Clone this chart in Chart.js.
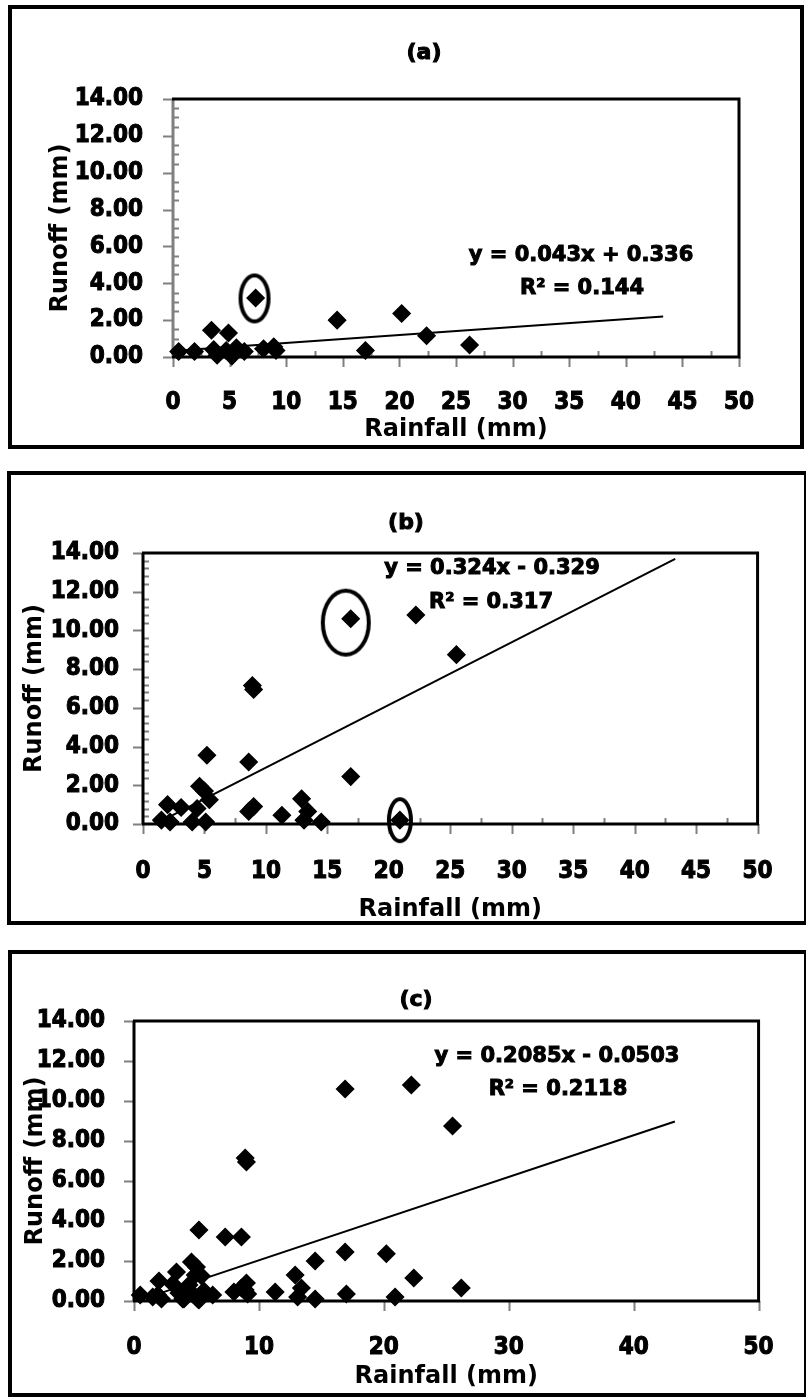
<!DOCTYPE html>
<html>
<head>
<meta charset="utf-8">
<title>Rainfall - runoff</title>
<script src="https://cdn.jsdelivr.net/npm/chart.js@4.4.1/dist/chart.umd.min.js"></script>
<style>
  html, body { margin: 0; padding: 0; background: #fff; overflow: hidden; }
  body { width: 806px; height: 1397px; position: relative; }
  canvas { position: absolute; left: 0; }
</style>
</head>
<body>
<canvas id="chartA" width="806" height="460" style="top:0px"></canvas>
<canvas id="chartB" width="806" height="475" style="top:460px"></canvas>
<canvas id="chartC" width="806" height="462" style="top:935px"></canvas>
<script>
// events for plot (a)
const rainA   = [0.5, 1.9, 3.4, 3.6, 3.9, 4.7, 4.9, 5.2, 5.6, 6.3, 7.3, 8.0, 8.9, 9.1, 14.5, 17.0, 20.2, 22.4, 26.2];
const runoffA = [0.3, 0.3, 1.45, 0.4, 0.1, 0.35, 1.3, 0.05, 0.5, 0.3, 3.2, 0.45, 0.55, 0.35, 2.0, 0.35, 2.36, 1.15, 0.65];

// events for plot (b)
const rainB   = [1.5, 2.0, 2.2, 3.1, 4.0, 4.4, 4.6, 5.0, 5.1, 5.2, 5.4, 8.6, 8.6, 8.9, 9.0, 9.0, 11.3, 12.9, 13.1, 13.4, 14.5, 16.9, 16.9, 20.9, 22.2, 25.5];
const runoffB = [0.2, 1.0, 0.1, 0.85, 0.1, 0.8, 1.95, 1.7, 0.1, 3.55, 1.25, 3.2, 0.65, 7.15, 6.95, 0.9, 0.45, 1.3, 0.2, 0.65, 0.1, 2.45, 10.6, 0.2, 10.8, 8.75];

// plot (c) pools both sets
const rainC   = rainA.concat(rainB);
const runoffC = runoffA.concat(runoffB);

// fitted lines, as printed on each plot
const fitSlope     = [0.043, 0.324, 0.2085];
const fitIntercept = [0.336, -0.329, -0.0503];
const fitText = [
  ['y = 0.043x + 0.336', 'R² = 0.144'],
  ['y = 0.324x - 0.329', 'R² = 0.317'],
  ['y = 0.2085x - 0.0503', 'R² = 0.2118']
];
const fitEndX = 43.3;

// circled events (centre, data units)
const circledA = [{ x: 7.2, y: 3.18 }];
const circledB = [{ x: 16.5, y: 10.4 }, { x: 20.9, y: 0.2 }];

const panelTitles = ['(a)', '(b)', '(c)'];
const xTitle = 'Rainfall (mm)';
const yTitle = 'Runoff (mm)';

const FONT = "'DejaVu Sans', sans-serif";
const TICK_FONT = "'DejaVu Sans Condensed', 'DejaVu Sans', sans-serif";
Chart.defaults.font.family = FONT;
Chart.defaults.font.weight = 'bold';
Chart.defaults.color = '#000';

function ellipseMark(rx, ry) {
  const lw = 4;
  const c = document.createElement('canvas');
  c.width = Math.ceil(2 * rx + lw + 2);
  c.height = Math.ceil(2 * ry + lw + 2);
  const g = c.getContext('2d');
  g.lineWidth = lw;
  g.strokeStyle = '#000';
  g.beginPath();
  g.ellipse(c.width / 2, c.height / 2, rx, ry, 0, 0, Math.PI * 2);
  g.stroke();
  return c;
}

function heavyText(ctx, text, x, y, size) {
  ctx.font = 'bold ' + size + 'px ' + FONT;
  ctx.lineWidth = 1;
  ctx.strokeStyle = '#000';
  ctx.fillStyle = '#000';
  ctx.textAlign = 'center';
  ctx.textBaseline = 'middle';
  ctx.strokeText(text, x, y);
  ctx.fillText(text, x, y);
}

// frame, plot border, tick marks, panel title and the fit equation
const panelDecor = {
  id: 'panelDecor',
  beforeDraw(chart, args, o) {
    const ctx = chart.ctx;
    const f = o.frame;
    ctx.save();
    ctx.lineWidth = 4;
    ctx.strokeStyle = '#000';
    ctx.strokeRect(f[0], f[1], f[2] - f[0], f[3] - f[1]);
    heavyText(ctx, o.title, o.titlePos[0], o.titlePos[1], 22);
    ctx.restore();
  },
  beforeDatasetsDraw(chart, args, o) {
    const { ctx, chartArea: a, scales: { x, y } } = chart;
    ctx.save();
    ctx.strokeStyle = '#808080';
    ctx.lineWidth = 2;
    ctx.beginPath();
    const nx = Math.round(x.max / o.xMinor);
    for (let i = 0; i <= nx; i++) {
      const v = i * o.xMinor;
      const px = Math.round(x.getPixelForValue(v)) + 0.5;
      const major = Math.abs(v / o.xMajor - Math.round(v / o.xMajor)) < 1e-6;
      if (major) { ctx.moveTo(px, a.bottom); ctx.lineTo(px, a.bottom + 10); }
      else { ctx.moveTo(px, a.bottom - 6); ctx.lineTo(px, a.bottom); }
    }
    const ny = Math.round(y.max / o.yMinor);
    for (let i = 0; i <= ny; i++) {
      const v = i * o.yMinor;
      const py = Math.round(y.getPixelForValue(v)) + 0.5;
      const major = Math.abs(v / o.yMajor - Math.round(v / o.yMajor)) < 1e-6;
      if (major) { ctx.moveTo(a.left - 10, py); ctx.lineTo(a.left, py); }
      else { ctx.moveTo(a.left, py); ctx.lineTo(a.left + 6, py); }
    }
    ctx.stroke();

    ctx.lineWidth = 3;
    ctx.strokeStyle = o.leftColor;
    ctx.beginPath();
    ctx.moveTo(a.left, a.top);
    ctx.lineTo(a.left, a.bottom);
    ctx.stroke();
    ctx.strokeStyle = '#000';
    ctx.beginPath();
    ctx.moveTo(a.left - 1, a.top);
    ctx.lineTo(a.right, a.top);
    ctx.lineTo(a.right, a.bottom);
    ctx.lineTo(a.left - 1, a.bottom);
    ctx.stroke();
    ctx.restore();
  },
  afterDraw(chart, args, o) {
    const ctx = chart.ctx;
    ctx.save();
    o.eqText.forEach((t, i) => heavyText(ctx, t, o.eqPos[i][0], o.eqPos[i][1], 21));
    ctx.restore();
  }
};

function pairs(xs, ys) {
  return xs.map((v, i) => ({ x: v, y: ys[i] }));
}

function buildPanel(id, p) {
  const k = p.index;
  const x0 = Math.min(...p.rain);
  const trend = [x0, fitEndX].map(v => ({ x: v, y: fitSlope[k] * v + fitIntercept[k] }));
  const tickFont = { family: TICK_FONT, size: 24, weight: 'bold' };

  return new Chart(document.getElementById(id), {
    type: 'scatter',
    data: {
      datasets: [
        {
          data: p.circled,
          pointStyle: c => p.circleMarks[c.dataIndex],
          pointRadius: 10,
          clip: false
        },
        {
          data: pairs(p.rain, p.runoff),
          pointStyle: 'rectRot',
          pointRadius: 8.5,
          backgroundColor: '#000',
          borderColor: '#000',
          borderWidth: 1.5,
          clip: false
        },
        {
          data: trend,
          showLine: true,
          pointRadius: 0,
          borderColor: '#000',
          borderWidth: 2,
          clip: false
        }
      ]
    },
    options: {
      responsive: false,
      animation: false,
      events: [],
      layout: { padding: p.pad },
      plugins: {
        legend: { display: false },
        tooltip: { enabled: false },
        title: { display: false },
        panelDecor: {
          frame: p.frame,
          title: panelTitles[k],
          titlePos: p.titlePos,
          xMajor: p.xStep, xMinor: p.xMinor,
          yMajor: 2, yMinor: p.yMinor,
          leftColor: p.leftColor,
          eqText: fitText[k],
          eqPos: p.eqPos
        }
      },
      scales: {
        x: {
          type: 'linear',
          min: 0, max: 50,
          grid: { display: false, drawTicks: false },
          border: { display: false },
          ticks: {
            stepSize: p.xStep, padding: p.xTickPad, maxRotation: 0, autoSkip: false,
            font: tickFont, textStrokeWidth: 1, textStrokeColor: '#000'
          },
          title: { display: true, text: xTitle, font: { size: 24, weight: 'bold' }, padding: { top: 0, bottom: p.xTitlePad } },
          afterFit: s => { s.height = p.xAxisH; }
        },
        y: {
          type: 'linear',
          min: 0, max: 14,
          grid: { display: false, drawTicks: false },
          border: { display: false },
          ticks: {
            stepSize: 2, padding: p.yTickPad, callback: v => v.toFixed(2),
            font: tickFont, textStrokeWidth: 1, textStrokeColor: '#000'
          },
          title: { display: true, text: yTitle, font: { size: 24, weight: 'bold' }, padding: { top: p.yTitlePad, bottom: 0 } },
          afterFit: s => { s.width = p.yAxisW; }
        }
      }
    },
    plugins: [panelDecor]
  });
}

buildPanel('chartA', {
  index: 0, rain: rainA, runoff: runoffA,
  circled: circledA, circleMarks: [ellipseMark(14, 23)],
  frame: [10, 7, 802, 447],
  titlePos: [424, 53],
  pad: { left: 40, right: 67, top: 99, bottom: 0 },
  yAxisW: 133, xAxisH: 103,
  xTickPad: 31.6, yTickPad: 30, xTitlePad: 15.6, yTitlePad: 6.6,
  xStep: 5, xMinor: 2.5, yMinor: 0.5, leftColor: '#808080',
  eqPos: [[581, 256], [582, 289]]
});

buildPanel('chartB', {
  index: 1, rain: rainB, runoff: runoffB,
  circled: circledB, circleMarks: [ellipseMark(23, 32), ellipseMark(11, 21)],
  frame: [9, 13, 806, 463],
  titlePos: [406, 63],
  pad: { left: 10, right: 47, top: 93, bottom: 0 },
  yAxisW: 133, xAxisH: 111,
  xTickPad: 33.4, yTickPad: 24, xTitlePad: 10.6, yTitlePad: 10.6,
  xStep: 5, xMinor: 2.5, yMinor: 0.4, leftColor: '#000',
  eqPos: [[492, 109], [491, 143]]
});

buildPanel('chartC', {
  index: 2, rain: rainC, runoff: runoffC,
  circled: [], circleMarks: [],
  frame: [10, 17, 806, 460],
  titlePos: [416, 65],
  pad: { left: 10, right: 34, top: 86, bottom: 0 },
  yAxisW: 124, xAxisH: 96,
  xTickPad: 32.4, yTickPad: 29, xTitlePad: 5.6, yTitlePad: 11.6,
  xStep: 10, xMinor: 10, yMinor: 2, leftColor: '#000',
  eqPos: [[557, 122], [558, 155]]
});
</script>
</body>
</html>
